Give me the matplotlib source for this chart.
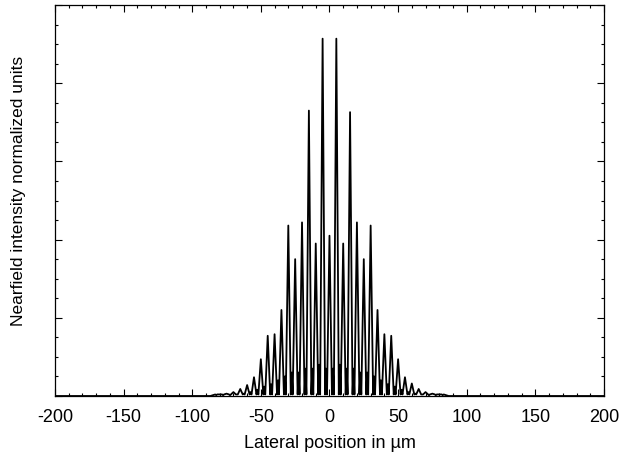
import numpy as np
import matplotlib
matplotlib.use('Agg')
import matplotlib.pyplot as plt
from matplotlib.ticker import MultipleLocator

plt.rcParams['font.family'] = ['Liberation Sans', 'DejaVu Sans']

# Hauptmaxima (Position in um, Hoehe)
peak_x = [-85, -80, -75, -70, -65, -60, -55, -50, -45, -40, -35, -30, -25, -20, -15, -10, -5,
          0, 5, 10, 15, 20, 25, 30, 35, 40, 45, 50, 55, 60, 65, 70, 75, 80, 85]
peak_h = [0.01, 0.02, 0.03, 0.05, 0.09, 0.14, 0.24, 0.47, 0.77, 0.79, 1.10, 2.18, 1.75, 2.22, 3.65, 1.95, 4.57,
          2.05, 4.57, 1.95, 3.63, 2.22, 1.75, 2.18, 1.10, 0.79, 0.77, 0.47, 0.24, 0.16, 0.09, 0.05, 0.03, 0.02, 0.01]
# Nebenmaxima zwischen den Hauptmaxima
side_h = [0.01, 0.01, 0.01, 0.02, 0.03, 0.05, 0.08, 0.12, 0.15, 0.20, 0.25, 0.30, 0.30, 0.35, 0.35, 0.40, 0.35,
          0.35, 0.40, 0.35, 0.35, 0.30, 0.30, 0.25, 0.20, 0.15, 0.12, 0.08, 0.05, 0.03, 0.02, 0.01, 0.01, 0.01]
trough = 0.02
half_w = 1.8

xs = [-200, peak_x[0] - half_w]
ys = [0, 0]
for i, (px, ph) in enumerate(zip(peak_x, peak_h)):
    xs.append(px)
    ys.append(ph)
    if i < len(side_h):
        nx = peak_x[i + 1]
        xs += [px + half_w, (px + nx) / 2, nx - half_w]
        ys += [trough, side_h[i], trough]
xs += [peak_x[-1] + half_w, 200]
ys += [0, 0]

fig = plt.figure(figsize=(6.22, 4.64), dpi=100)
ax = fig.add_axes([0.0884, 0.1444, 0.8826, 0.8426])
ax.plot(xs, ys, color='black', lw=1.3)

ax.set_xlim(-200, 200)
ax.set_ylim(0, 5)
ax.set_xticks(np.arange(-200, 201, 50))
ax.set_xticklabels([str(v) for v in range(-200, 201, 50)])
ax.xaxis.set_minor_locator(MultipleLocator(10))
ax.yaxis.set_major_locator(MultipleLocator(1))
ax.yaxis.set_minor_locator(MultipleLocator(0.25))
ax.set_yticklabels([])
ax.tick_params(which='both', direction='in', top=True, right=True, labelsize=13, width=0.8)
ax.tick_params(which='major', length=5)
ax.tick_params(which='minor', length=2.5)
ax.tick_params(axis='x', pad=9)
for s in ax.spines.values():
    s.set_linewidth(0.9)

ax.set_xlabel('Lateral position in \u00b5m', fontsize=13, labelpad=6)
ax.set_ylabel('Nearfield intensity normalized units', fontsize=12.5)
ax.yaxis.set_label_coords(-0.052, 0.527)

fig.savefig('out.png', dpi=100)
